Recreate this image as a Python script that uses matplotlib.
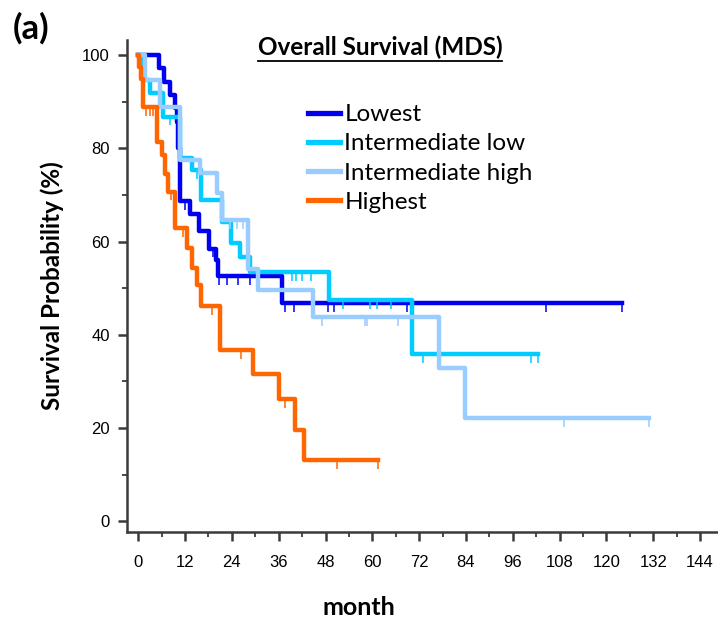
import numpy as np
import matplotlib
matplotlib.use("Agg")
import matplotlib.pyplot as plt
from matplotlib.lines import Line2D


# -------------------------------
# DATA
# -------------------------------
groups = ["Lowest", "Intermediate low", "Intermediate high", "Highest"]
colors = ["#0000ee", "#00ccff", "#99ccff", "#ff6600"]

lowest_t = [0, 5.2, 6.5, 8.1, 9.4, 9.9, 10.3, 10.7, 13.3, 15.6, 18.1, 20.0, 20.5, 36.8, 123.9]
lowest_s = [100, 97.1, 94.3, 91.4, 88.6, 85.7, 80.0, 68.6, 66.0, 62.3, 58.5, 56.0, 52.6, 46.8, 46.8]
lowest_cens = [12.0, 19.2, 20.7, 22.7, 25.5, 28.6, 37.6, 39.9, 48.7, 50.1, 68.8, 104.6, 123.9]

intlow_t = [0, 1.3, 3.0, 6.3, 10.7, 13.7, 16.2, 21.4, 23.9, 26.1, 28.6, 48.9, 70.2, 102.4]
intlow_s = [100, 94.6, 91.8, 86.8, 78.0, 75.3, 68.9, 64.1, 59.6, 56.6, 53.5, 47.4, 35.8, 35.8]
intlow_cens = [8.1, 15.0, 39.4, 40.5, 42.1, 44.4, 52.4, 59.4, 61.1, 64.8, 73.0, 100.6, 102.4]

inthigh_t = [0, 1.7, 5.6, 10.7, 15.8, 20.1, 21.4, 28.2, 30.6, 44.8, 77.2, 83.7, 131.0]
inthigh_s = [100, 94.6, 88.9, 77.5, 74.6, 70.5, 64.6, 54.1, 49.6, 43.8, 32.8, 22.1, 22.1]
inthigh_cens = [23.5, 25.2, 26.9, 47.2, 58.0, 58.6, 66.5, 109.1, 131.0]

highest_t = [0, 0.2, 0.8, 1.3, 4.8, 6.0, 6.9, 7.7, 9.4, 12.4, 13.7, 15.0, 16.2, 21.0, 29.5, 36.0, 40.1, 42.6, 61.5]
highest_s = [100, 97.4, 94.8, 88.9, 81.4, 78.5, 74.4, 70.7, 62.8, 58.6, 54.3, 50.6, 46.2, 36.7, 31.6, 26.3, 19.7, 13.2, 13.2]
highest_cens = [2.1, 3.0, 3.9, 8.5, 11.6, 18.9, 26.3, 37.6, 50.9, 61.5]

x_ticks = [0, 12, 24, 36, 48, 60, 72, 84, 96, 108, 120, 132, 144]
y_ticks = [0, 20, 40, 60, 80, 100]

series = [
    (lowest_t, lowest_s, lowest_cens),
    (intlow_t, intlow_s, intlow_cens),
    (inthigh_t, inthigh_s, inthigh_cens),
    (highest_t, highest_s, highest_cens),
]


# -------------------------------
# FIGURE
# -------------------------------
W, H = 718, 624
fig = plt.figure(figsize=(W / 100, H / 100), dpi=100)
ax = fig.add_axes([127.3 / W, (H - 531.7) / H, 1 - 127.3 / W, (531.7 - 40) / H])

spine_col = "#3a3a3a"

for i, ((t, s, cens), name, col) in enumerate(zip(series, groups, colors)):
    ax.step(t, s, where="post", color=col, lw=3.2, label=name,
            zorder=2 + i, solid_joinstyle="round")
    # censor marks hang below the curve
    t_arr = np.array(t)
    s_arr = np.array(s)
    idx = np.searchsorted(t_arr, cens, side="right") - 1
    y_c = s_arr[idx]
    ax.vlines(cens, y_c - 1.9, y_c, color=col, lw=1.1, zorder=2 + i)

ax.set_xlim(-2.8, 148.6)
ax.set_ylim(-2.2, 103.2)

ax.set_xticks(x_ticks)
ax.set_xticks(np.arange(6, 144, 12), minor=True)
ax.set_yticks(y_ticks)
ax.set_yticks(np.arange(10, 100, 20), minor=True)

for side in ["top", "right"]:
    ax.spines[side].set_visible(False)
for side in ["left", "bottom"]:
    ax.spines[side].set_color(spine_col)
    ax.spines[side].set_linewidth(1.8)

ax.tick_params(which="major", direction="out", length=6.5, width=1.8,
               color=spine_col, labelsize=12)
ax.tick_params(which="minor", direction="out", length=3.5, width=1.3,
               color=spine_col)
ax.tick_params(axis="x", which="major", pad=10)
ax.tick_params(axis="y", which="major", pad=6)
for lab in ax.get_xticklabels() + ax.get_yticklabels():
    lab.set_family("Liberation Sans")

# -------------------------------
# TEXT
# -------------------------------
ax.set_xlabel("month", family="Lato", fontweight="bold", fontsize=18)
ax.xaxis.set_label_coords((358.5 - 127.3) / 591, -0.13)
ax.set_ylabel("Survival Probability (%)", family="Lato", fontweight="bold", fontsize=17.5)
ax.yaxis.set_label_coords(-0.108, 0.5)

fig.text(13 / W, 1 - 28 / H, "(a)", family="Lato", fontweight="bold",
         fontsize=25, ha="left", va="center")

title = fig.text(380 / W, 1 - 47 / H, "Overall Survival (MDS)", family="Lato",
                 fontweight="bold", fontsize=17.5, ha="center", va="center")

leg = ax.legend(loc="upper left", bbox_to_anchor=(308 / W, 1 - 104 / H),
                bbox_transform=fig.transFigure, frameon=False,
                prop={"family": "Lato", "size": 17.5}, handlelength=1.3,
                handletextpad=0.2, labelspacing=0.34, borderpad=0, borderaxespad=0)
for h in leg.get_lines():
    h.set_linewidth(3.8)

# underline the title
fig.canvas.draw()
bb = title.get_window_extent().transformed(fig.transFigure.inverted())
fig.add_artist(Line2D([bb.x0, bb.x1], [bb.y0 - 0.004, bb.y0 - 0.004],
                      transform=fig.transFigure, color="black", lw=1.3))

fig.savefig("out.png", dpi=100)
